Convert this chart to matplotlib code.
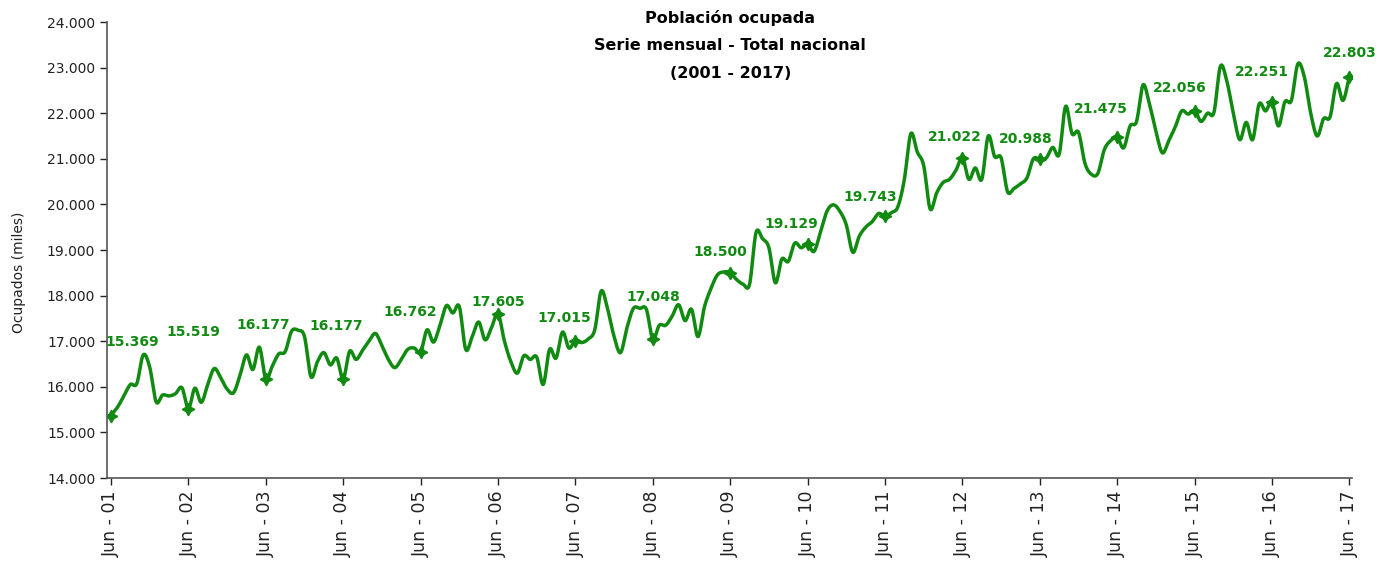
import numpy as np
import matplotlib
matplotlib.use('Agg')
import matplotlib.pyplot as plt
from matplotlib.ticker import FuncFormatter

# Ocupados (miles de personas), serie mensual, de junio a mayo de cada año
ocup_2001 = [15.369, 15.55, 15.80, 16.05, 16.07, 16.70, 16.43, 15.67, 15.82, 15.80, 15.85, 15.98]
ocup_2002 = [15.519, 15.97, 15.66, 16.05, 16.40, 16.20, 15.95, 15.87, 16.25, 16.70, 16.38, 16.87]
ocup_2003 = [16.177, 16.45, 16.72, 16.77, 17.22, 17.24, 17.10, 16.22, 16.55, 16.75, 16.48, 16.63]
ocup_2004 = [16.177, 16.78, 16.60, 16.80, 17.00, 17.17, 16.90, 16.60, 16.42, 16.60, 16.82, 16.85]
ocup_2005 = [16.762, 17.25, 16.98, 17.35, 17.78, 17.62, 17.76, 16.82, 17.10, 17.42, 17.03, 17.30]
ocup_2006 = [17.605, 17.00, 16.55, 16.30, 16.68, 16.60, 16.65, 16.05, 16.82, 16.63, 17.20, 16.85]
ocup_2007 = [17.015, 16.97, 17.05, 17.25, 18.10, 17.70, 17.10, 16.75, 17.30, 17.72, 17.72, 17.70]
ocup_2008 = [17.048, 17.35, 17.35, 17.55, 17.80, 17.45, 17.70, 17.10, 17.75, 18.15, 18.45, 18.52]
ocup_2009 = [18.500, 18.35, 18.25, 18.25, 19.38, 19.25, 19.05, 18.28, 18.80, 18.75, 19.15, 19.05]
ocup_2010 = [19.129, 18.97, 19.40, 19.85, 19.99, 19.85, 19.55, 18.95, 19.30, 19.50, 19.62, 19.80]
ocup_2011 = [19.743, 19.82, 19.95, 20.55, 21.55, 21.15, 20.85, 19.90, 20.25, 20.48, 20.55, 20.75]
ocup_2012 = [21.022, 20.55, 20.80, 20.55, 21.50, 21.05, 21.02, 20.28, 20.35, 20.45, 20.58, 21.00]
ocup_2013 = [20.988, 21.02, 21.25, 21.10, 22.15, 21.55, 21.58, 20.90, 20.66, 20.68, 21.20, 21.40]
ocup_2014 = [21.475, 21.24, 21.72, 21.82, 22.62, 22.20, 21.60, 21.13, 21.40, 21.70, 22.05, 21.98]
ocup_2015 = [22.056, 21.82, 22.00, 22.02, 23.03, 22.70, 22.00, 21.42, 21.80, 21.42, 22.20, 22.05]
ocup_2016 = [22.251, 21.72, 22.25, 22.28, 23.08, 22.80, 22.00, 21.50, 21.88, 21.92, 22.65, 22.28]
ocup_2017 = [22.803]

years = list(range(2001, 2018))
tick_labels = ['Jun - %02d' % (y % 100) for y in years]
june_values = [15.369, 15.519, 16.177, 16.177, 16.762, 17.605, 17.015, 17.048, 18.500,
               19.129, 19.743, 21.022, 20.988, 21.475, 22.056, 22.251, 22.803]

# desplazamiento de cada etiqueta respecto a su marcador (pixeles)
label_offsets = [(21, 74), (5, 77), (-3, 54), (-7, 53), (-10, 40), (0, 12), (-11, 23),
                 (1, 42), (-10, 21), (-16, 20), (-15, 19), (-8, 21), (-14, 20),
                 (-16, 28), (-15, 23), (-10, 30), (0, 24)]

GREEN = '#108a10'


def smooth(x, y, n=12):
    # curva suavizada tipo Catmull-Rom (como la linea suavizada de Excel)
    x = np.asarray(x, float)
    y = np.asarray(y, float)
    px = np.concatenate([[2 * x[0] - x[1]], x, [2 * x[-1] - x[-2]]])
    py = np.concatenate([[2 * y[0] - y[1]], y, [2 * y[-1] - y[-2]]])
    t = np.linspace(0, 1, n, endpoint=False)
    xs, ys = [], []
    for i in range(1, len(px) - 2):
        for p, out in ((px, xs), (py, ys)):
            p0, p1, p2, p3 = p[i - 1], p[i], p[i + 1], p[i + 2]
            out.append(0.5 * (2 * p1 + (-p0 + p2) * t + (2 * p0 - 5 * p1 + 4 * p2 - p3) * t ** 2
                              + (-p0 + 3 * p1 - 3 * p2 + p3) * t ** 3))
    xs.append([x[-1]])
    ys.append([y[-1]])
    return np.concatenate(xs), np.concatenate(ys)


series = (ocup_2001 + ocup_2002 + ocup_2003 + ocup_2004 + ocup_2005 + ocup_2006 + ocup_2007
          + ocup_2008 + ocup_2009 + ocup_2010 + ocup_2011 + ocup_2012 + ocup_2013 + ocup_2014
          + ocup_2015 + ocup_2016 + ocup_2017)
months = np.arange(len(series))
june_pos = months[::12]

fig = plt.figure(figsize=(13.86, 5.63), dpi=100)
ax = fig.add_axes([107 / 1386, 85 / 563, 1245 / 1386, 456 / 563])

sx, sy = smooth(months, series)
ax.plot(sx, sy, color=GREEN, lw=2.5, solid_capstyle='round')
ax.plot(june_pos, june_values, ls='none', marker=(4, 1, 0), ms=9, color=GREEN, mec=GREEN)

for xp, v, (dx, dy) in zip(june_pos, june_values, label_offsets):
    ax.annotate(('%.3f' % v), xy=(xp, v), xytext=(dx * 0.72, dy * 0.72), textcoords='offset points',
                ha='center', va='center', color=GREEN, fontsize=10, fontweight='bold')

ax.set_ylim(14, 24)
ax.set_xlim(-0.62, 192.4)
ax.set_yticks(np.arange(14, 24.5, 1))
ax.yaxis.set_major_formatter(FuncFormatter(lambda v, p: '%.3f' % v))
ax.set_xticks(june_pos)
ax.set_xticklabels(tick_labels, rotation=90, fontsize=12.5, color='#222222')
ax.tick_params(axis='y', labelsize=10, colors='#222222', length=5, width=1)
ax.tick_params(axis='x', length=5, width=1, colors='#222222', pad=4)
for s in ['top', 'right']:
    ax.spines[s].set_visible(False)
for s in ['left', 'bottom']:
    ax.spines[s].set_color('#555555')
    ax.spines[s].set_linewidth(1.2)

ax.set_ylabel('Ocupados (miles)', fontsize=10, color='#222222', labelpad=6)
ax.yaxis.set_label_coords(-0.065, 0.45)

fig.text(0.527, 1 - 18 / 563, 'Población ocupada', ha='center', va='center', fontsize=11.5, fontweight='bold')
fig.text(0.527, 1 - 46 / 563, 'Serie mensual - Total nacional', ha='center', va='center', fontsize=11.5, fontweight='bold')
fig.text(0.527, 1 - 73 / 563, '(2001 - 2017)', ha='center', va='center', fontsize=11.5, fontweight='bold')

fig.savefig('out.png', dpi=100)
